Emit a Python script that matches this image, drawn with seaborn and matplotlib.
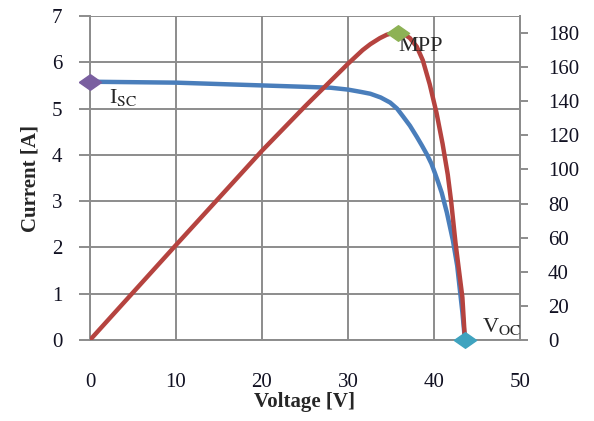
import numpy as np
import pandas as pd
import seaborn as sns
import matplotlib
matplotlib.use("Agg")
import matplotlib.pyplot as plt

# I-V curve
iv_voltage = [0, 5, 10, 15, 20, 25, 28, 30, 31.5, 32.6, 33.8, 34.9, 35.7, 36.4, 37.2,
              38.0, 38.6, 39.2, 39.7, 40.1, 40.5, 40.9, 41.5, 42.2, 42.7, 43.0, 43.3, 43.6]
iv_current = [5.58, 5.57, 5.56, 5.53, 5.50, 5.47, 5.45, 5.41, 5.36, 5.32, 5.24, 5.13, 5.00,
              4.83, 4.63, 4.39, 4.20, 4.00, 3.81, 3.61, 3.40, 3.18, 2.75, 2.15, 1.60, 1.10,
              0.60, 0.0]

# P-V curve (right axis)
pv_voltage = [0, 10, 20, 25, 28, 30, 31.7, 32.6, 33.7, 34.5, 35.2, 35.8, 36.5, 37.2, 38.0,
              38.7, 39.5, 40.3, 41.0, 41.6, 42.0, 42.5, 43.0, 43.3, 43.6]
pv_power = [0, 55.7, 111, 137, 152, 162, 170, 173.5, 177, 179, 180, 180.5, 179.5, 177, 172,
            164, 150, 133, 115, 97, 81, 57, 37, 25, 0]

# special points
isc_point = (0, 5.58)
mpp_point = (35.8, 180)
voc_point = (43.6, 0)

x_ticks = [0, 10, 20, 30, 40, 50]
y_ticks = [0, 1, 2, 3, 4, 5, 6, 7]
y2_ticks = [0, 20, 40, 60, 80, 100, 120, 140, 160, 180]

sns.set_style("white")
plt.rcParams['font.family'] = ['Liberation Serif', 'DejaVu Serif']
plt.rcParams['mathtext.fontset'] = 'stix'

grid_col = "#8c8c8c"
blue = "#4A7EBB"
red = "#B5433F"

fig = plt.figure(figsize=(5.94, 4.21), dpi=100)
ax = fig.add_axes([90 / 594, 81 / 421, 430 / 594, 324 / 421])
ax2 = ax.twinx()

iv = pd.DataFrame({"V": iv_voltage, "I": iv_current})
pv = pd.DataFrame({"V": pv_voltage, "P": pv_power})

sns.lineplot(data=iv, x="V", y="I", ax=ax, color=blue, linewidth=3.2, zorder=3)
sns.lineplot(data=pv, x="V", y="P", ax=ax2, color=red, linewidth=3.2, zorder=3)

# wide diamond marker, like the reference
diamond = [(-1, 0), (0, 0.7), (1, 0), (0, -0.7), (-1, 0)]
ax.plot(*isc_point, marker=diamond, markersize=16, color="#7A5FA0", clip_on=False, zorder=5)
ax2.plot(*mpp_point, marker=diamond, markersize=16, color="#8DB255", clip_on=False, zorder=5)
ax2.plot(*voc_point, marker=diamond, markersize=16, color="#3FA3BF", clip_on=False, zorder=5)

ax.text(2.2, 5.25, r"I$_{\mathrm{SC}}$", fontsize=16, va="center", ha="left")
ax2.text(35.8, 172, "MPP", fontsize=16, va="center", ha="left")
ax2.text(45.6, 8, r"V$_{\mathrm{OC}}$", fontsize=16, va="center", ha="left")

ax.set_xlim(0, 50)
ax.set_ylim(0, 7)
ax2.set_ylim(0, 190)
ax.set_xticks(x_ticks)
ax.set_yticks(y_ticks)
ax2.set_yticks(y2_ticks)

ax.grid(True, color=grid_col, linewidth=1.4)
ax.set_axisbelow(True)
ax2.grid(False)

for a in (ax, ax2):
    for s in a.spines.values():
        s.set_color(grid_col)
        s.set_linewidth(1.4)
ax.spines["top"].set_visible(False)
ax2.spines["top"].set_visible(False)
ax2.spines["left"].set_visible(False)
ax2.spines["bottom"].set_visible(False)

ax.tick_params(axis="x", direction="out", length=6, width=1.4, color=grid_col,
               pad=18, labelsize=15, labelcolor="#111122")
ax.tick_params(axis="y", direction="out", length=8, width=1.4, color=grid_col,
               pad=12, labelsize=15, labelcolor="#111122")
ax2.tick_params(axis="y", direction="out", length=6, width=1.4, color=grid_col,
                pad=14, labelsize=15, labelcolor="#111122")

ax.set_xlabel("Voltage [V]", fontsize=15, fontweight="bold", labelpad=0)
ax.set_ylabel("Current [A]", fontsize=15, fontweight="bold", labelpad=8)
ax2.set_ylabel("")

fig.savefig("out.png", dpi=100)
